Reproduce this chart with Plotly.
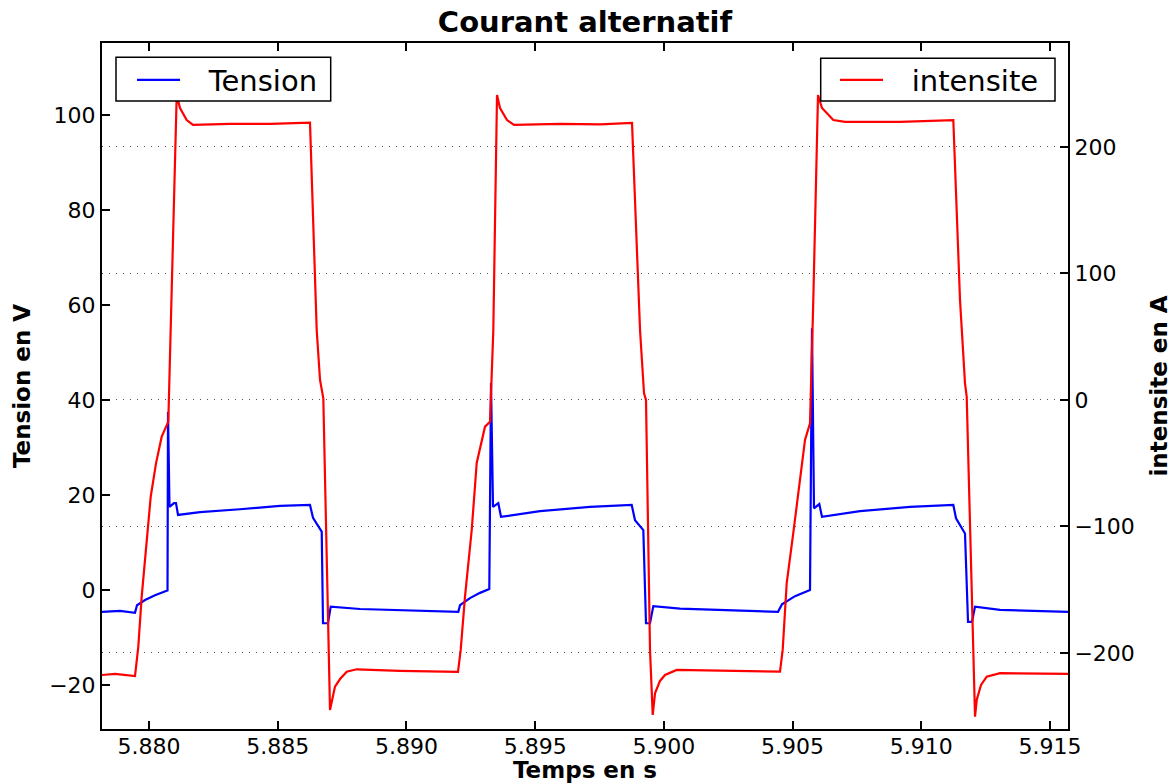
import plotly.graph_objects as go

# ---------------- data ----------------
t_tension = [
    5.878174, 5.878873, 5.879456, 5.879534, 5.879845, 5.880233, 5.880660, 5.880719, 5.880738, 5.880796,
    5.880971, 5.881049, 5.881127, 5.881981, 5.883535, 5.885089, 5.886254, 5.886371, 5.886709, 5.886759,
    5.886953, 5.887058, 5.888196, 5.889750, 5.892015,
    5.892081, 5.892469, 5.892858, 5.893219, 5.893285, 5.893363, 5.893569, 5.893674, 5.895189, 5.897131,
    5.898751, 5.898879, 5.899202, 5.899306, 5.899462, 5.899590, 5.900627, 5.902569, 5.904434,
    5.904589, 5.905094, 5.905677, 5.905754, 5.905832, 5.906038, 5.906143, 5.907619, 5.909562, 5.911244,
    5.911349, 5.911698, 5.911815, 5.911970, 5.912087, 5.913058, 5.915699,
]
v_tension = [
    -4.6, -4.4, -4.8, -3.2, -2.1, -1.1, -0.2, -0.1, 37.5, 17.5,
    18.3, 18.3, 15.8, 16.4, 17.0, 17.7, 17.9, 15.2, 12.3, -7.0,
    -7.0, -3.5, -4.0, -4.3, -4.6,
    -3.2, -1.7, -0.6, 0.2, 43.6, 17.5, 18.3, 15.4, 16.6, 17.5,
    17.9, 14.7, 12.6, -7.0, -7.0, -3.4, -3.9, -4.3, -4.6,
    -3.0, -1.3, 0.0, 55.1, 17.2, 18.1, 15.4, 16.6, 17.5, 17.9,
    15.1, 11.9, -6.7, -6.7, -3.5, -4.2, -4.6,
]

t_intensite = [
    5.878174, 5.878679, 5.879456, 5.879584, 5.879716, 5.879883, 5.880066, 5.880272, 5.880493, 5.880750,
    5.880843, 5.881076, 5.881204, 5.881464, 5.881709, 5.883147, 5.884700, 5.886254,
    5.886514, 5.886643, 5.886771, 5.886965, 5.887031, 5.887225, 5.887420, 5.887680, 5.888068, 5.889750,
    5.891887,
    5.892003, 5.892108, 5.892275, 5.892536, 5.892730, 5.893052, 5.893246, 5.893375, 5.893519, 5.893635,
    5.893907, 5.894179, 5.895966, 5.897520, 5.898763, 5.899074, 5.899229, 5.899306, 5.899462, 5.899567,
    5.899656, 5.899850, 5.900044, 5.900499, 5.902569, 5.904511,
    5.904616, 5.904772, 5.905028, 5.905288, 5.905483, 5.905677, 5.905805, 5.905988, 5.906143, 5.906582,
    5.907037, 5.909173, 5.911244, 5.911504, 5.911698, 5.911764, 5.912021, 5.912087, 5.912153, 5.912320,
    5.912542, 5.913058, 5.915699,
]
i_intensite = [
    -217.4, -216.6, -218.2, -195.0, -155.5, -116.0, -76.5, -50.1, -29.0, -17.2,
    55.3, 241.1, 230.8, 221.3, 217.4, 218.2, 218.2, 219.2,
    55.3, 15.8, 1.3, -189.7, -245.1, -226.6, -220.6, -214.8, -212.9, -214.2,
    -215.0,
    -215.0, -197.6, -155.5, -102.8, -49.8, -21.1, -17.2, 55.3, 241.1, 230.8,
    221.3, 217.4, 218.2, 217.8, 219.0, 55.3, 5.3, 0.0, -197.6, -249.0,
    -231.9, -222.1, -217.4, -213.4, -214.2, -214.8,
    -197.6, -144.7, -105.1, -60.6, -31.6, -18.4, 79.1, 241.1, 230.8, 221.3,
    219.8, 219.8, 221.3, 79.1, 13.2, 2.6, -197.6, -250.4, -237.2, -225.3,
    -218.7, -216.0, -216.6,
]

x_ticks = [5.880, 5.885, 5.890, 5.895, 5.900, 5.905, 5.910, 5.915]
x_tick_labels = ["5.880", "5.885", "5.890", "5.895", "5.900", "5.905", "5.910", "5.915"]
y1_ticks = [-20, 0, 20, 40, 60, 80, 100]
y2_ticks = [-200, -100, 0, 100, 200]

FONT = "DejaVu Sans"
GAP = "\u2002\u00a0"   # spacing between legend line sample and label (matplotlib style)

fig = go.Figure()
fig.add_trace(go.Scatter(
    x=t_tension, y=v_tension, mode="lines", name=GAP + "Tension",
    line=dict(color="#0000ff", width=2.2), yaxis="y", legend="legend",
))
fig.add_trace(go.Scatter(
    x=t_intensite, y=i_intensite, mode="lines", name=GAP + "intensite",
    line=dict(color="#ff0000", width=2.2), yaxis="y2", legend="legend2",
))

axis_common = dict(
    ticks="inside", ticklen=8, tickwidth=1.5, tickcolor="black",
    showline=True, linewidth=2, linecolor="black",
    zeroline=False, automargin=False,
    tickfont=dict(family=FONT, size=22, color="black"),
)

legend_common = dict(
    xanchor="left", yanchor="top",
    bgcolor="rgba(0,0,0,0)", borderwidth=0,
    font=dict(family=FONT, size=29, color="black"), itemwidth=43,
)

fig.update_layout(
    width=1172, height=783,
    margin=dict(l=102, r=104, t=43, b=54),
    paper_bgcolor="white", plot_bgcolor="white",
    font=dict(family=FONT, color="black"),
    title=dict(
        text="<b>Courant alternatif</b>", x=0.5, xref="paper", xanchor="center",
        y=1 - 22 / 783, yref="container", yanchor="middle",
        font=dict(family=FONT, size=29, color="black"),
    ),
    xaxis=dict(
        range=[5.878174, 5.915699], tickvals=x_ticks, ticktext=x_tick_labels,
        mirror="ticks", showgrid=False, ticklabelstandoff=-3,
        title=dict(text="<b>Temps en s</b>", font=dict(family=FONT, size=23, color="black"), standoff=14),
        **axis_common,
    ),
    yaxis=dict(
        range=[-29.26, 115.16], tickvals=y1_ticks, mirror=True, showgrid=False,
        title=dict(text="<b>Tension en V</b>", font=dict(family=FONT, size=23, color="black"), standoff=12),
        **axis_common,
    ),
    yaxis2=dict(
        range=[-260.1, 282.2], tickvals=y2_ticks, overlaying="y", side="right", anchor="x",
        showgrid=True, gridcolor="#555555", gridwidth=1, griddash="1px,6px",
        title=dict(text="<b>intensite en A</b>", font=dict(family=FONT, size=23, color="black"), standoff=30),
        **axis_common,
    ),
    legend=dict(x=(132 - 102) / 966, y=1 - (54.5 - 43) / 686, **legend_common),
    legend2=dict(x=(835 - 102) / 966, y=1 - (54.5 - 43) / 686, **legend_common),
    showlegend=True,
    shapes=[
        # legend frames (matplotlib style boxes)
        dict(type="rect", xref="paper", yref="paper", layer="above",
             x0=(116 - 102) / 966, x1=(330.7 - 102) / 966,
             y0=1 - (101 - 43) / 686, y1=1 - (57.3 - 43) / 686,
             line=dict(color="black", width=1.5), fillcolor="white"),
        dict(type="rect", xref="paper", yref="paper", layer="above",
             x0=(820.7 - 102) / 966, x1=(1055 - 102) / 966,
             y0=1 - (101 - 43) / 686, y1=1 - (58.3 - 43) / 686,
             line=dict(color="black", width=1.5), fillcolor="white"),
    ],
)

fig.write_html(
    "out.html",
    config={"displayModeBar": False},
    post_script="document.body.style.margin='0';document.body.style.padding='0';",
)
